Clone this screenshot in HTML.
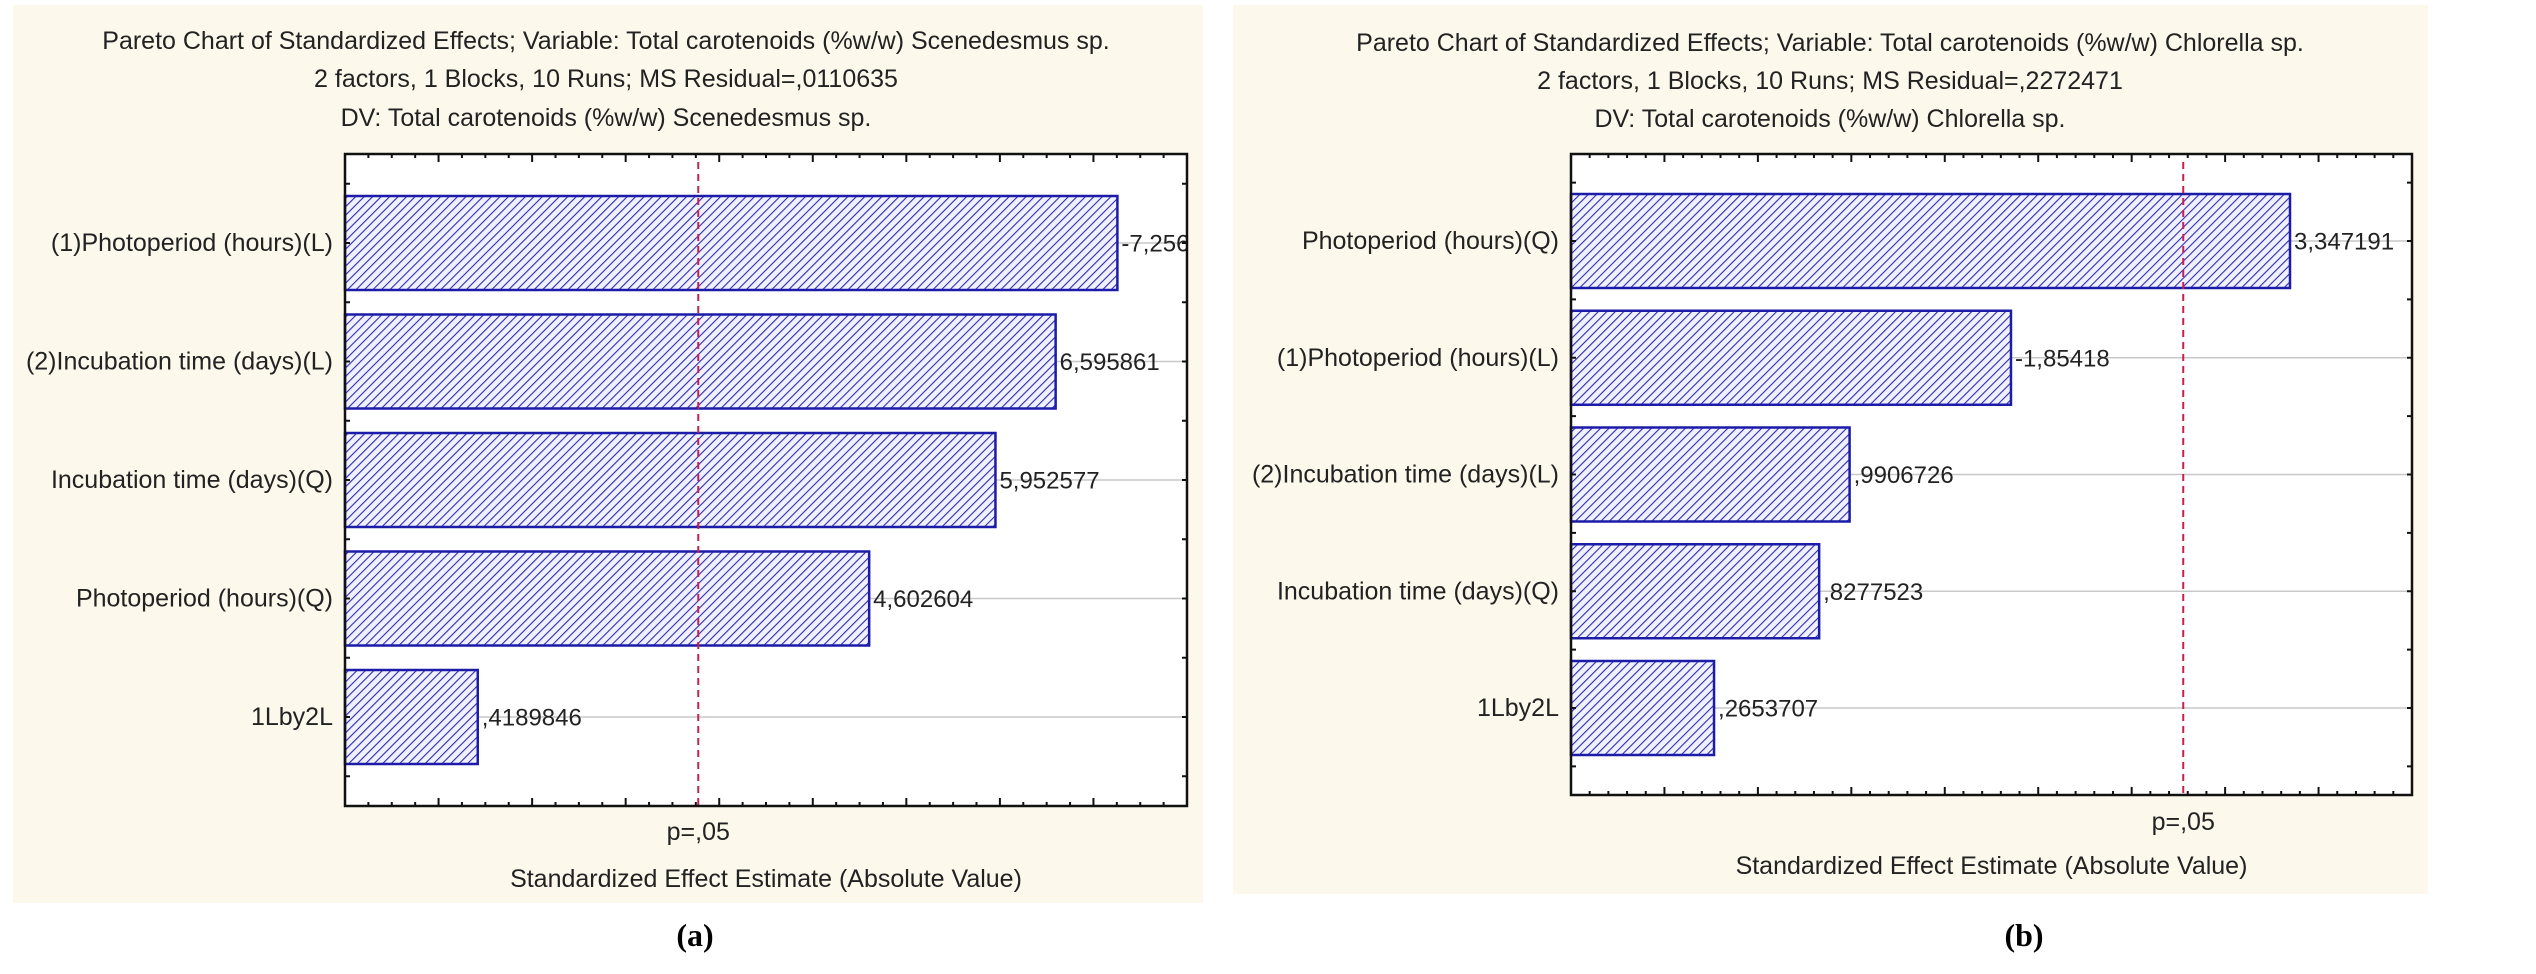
<!DOCTYPE html>
<html><head><meta charset="utf-8"><style>
html,body{margin:0;padding:0;background:#fff;}
svg{display:block;font-family:"Liberation Sans",Arial,sans-serif;}
</style></head><body>
<svg id="fig" width="2536" height="974" viewBox="0 0 2536 974" xmlns="http://www.w3.org/2000/svg">
<defs>
<pattern id="hatch" patternUnits="userSpaceOnUse" width="6" height="6" patternTransform="rotate(45)">
<rect width="6" height="6" fill="#f0f0ff"/>
<line x1="0" y1="0" x2="0" y2="6" stroke="#2c2cb4" stroke-width="2.2"/>
</pattern>
</defs>
</svg>
<script>
// Panel (a) data
const catsA = ["(1)Photoperiod (hours)(L)","(2)Incubation time (days)(L)","Incubation time (days)(Q)","Photoperiod (hours)(Q)","1Lby2L"];
const valsA = [7.256, 6.595861, 5.952577, 4.602604, 0.4189846];
const labelsA = ["-7,256","6,595861","5,952577","4,602604",",4189846"];
const pA = 2.776;
// Panel (b) data
const catsB = ["Photoperiod (hours)(Q)","(1)Photoperiod (hours)(L)","(2)Incubation time (days)(L)","Incubation time (days)(Q)","1Lby2L"];
const valsB = [3.347191, 1.85418, 0.9906726, 0.8277523, 0.2653707];
const labelsB = ["3,347191","-1,85418",",9906726",",8277523",",2653707"];
const pB = 2.776;

const NS = "http://www.w3.org/2000/svg";
const svg = document.getElementById('fig');
function mk(tag, attrs, parent){ const e=document.createElementNS(NS,tag); for(const k in attrs) e.setAttribute(k,attrs[k]); (parent||svg).appendChild(e); return e; }
function txt(x,y,s,size,anchor,parent,extra){ const t=mk('text',Object.assign({x:x,y:y,'font-size':size,'text-anchor':anchor||'middle','dominant-baseline':'central',fill:'#222'},extra||{}),parent); t.textContent=s; return t; }

function panel(o){
  const g = mk('g',{});
  
  
  const bg = mk('rect',{x:o.bg[0],y:o.bg[1],width:o.bg[2],height:o.bg[3],fill:'#fcf8ec'},g);
  
  
  o.titles.forEach((s,i)=>{ const t=txt(o.tcx,o.ty[i],s,25,'middle',g);
    
     });
  const L=o.frame[0],T=o.frame[1],R=o.frame[2],B=o.frame[3];
  const plot = mk('rect',{x:L,y:T,width:R-L,height:B-T,fill:'#fff'},g);
  
  
  const xs = v => L + (v - o.xmin)/(o.xmax - o.xmin)*(R-L);
  const n = o.cats.length;
  const ys = i => T + o.pad + i*((B-T-2*o.pad)/(n-1));
  const clipId = 'clip'+o.name;
  const cp = mk('clipPath',{id:clipId},g); mk('rect',{x:L,y:T,width:R-L,height:B-T},cp);
  for(let i=0;i<n;i++){ const gl=mk('line',{x1:L,x2:R,y1:ys(i),y2:ys(i),stroke:'#c8c8c8','stroke-width':1.5},g);
      }
  for(let i=0;i<n;i++){
    const y=ys(i), h=o.barH;
    const b=mk('rect',{x:xs(o.xmin),y:y-h/2,width:xs(o.vals[i])-xs(o.xmin),height:h,fill:'url(#hatch)',stroke:'#1c1ca8','stroke-width':2.5},g);
    
    
    const lab=txt(xs(o.vals[i])+4,y+1,o.labels[i],24,'start',g,{'clip-path':'url(#'+clipId+')'});
    
    
    const cl=txt(L-12,y,o.cats[i],25,'end',g);
    
    
  }
  const px=xs(o.p);
  const pl=mk('line',{x1:px,x2:px,y1:T+8,y2:B,stroke:'#c8204c','stroke-width':2,'stroke-dasharray':'7,5'},g);
  
  
  const pt=txt(px,o.pty,'p=,05',25,'middle',g);
  
  
  const steps=Math.round((o.xmax-o.xmin)/o.minor);
  for(let k=0;k<=steps;k++){
    const v=o.xmin+k*o.minor, x=xs(v);
    const major=Math.abs(((v-o.xmin)/o.major)-Math.round((v-o.xmin)/o.major))<1e-6;
    const len=major?8:4;
    mk('line',{x1:x,x2:x,y1:B,y2:B-len,stroke:'#111','stroke-width':2},g);
    mk('line',{x1:x,x2:x,y1:T,y2:T+len,stroke:'#111','stroke-width':2},g);
  }
  const pitch=(B-T-2*o.pad)/(n-1);
  for(let i=-1;i<=n;i++){
    [ys(i), ys(i)+pitch/2].forEach(y=>{ if(y>T+3&&y<B-3){
      mk('line',{x1:L,x2:L+5,y1:y,y2:y,stroke:'#111','stroke-width':2},g);
      mk('line',{x1:R,x2:R-5,y1:y,y2:y,stroke:'#111','stroke-width':2},g);}});
  }
  const fr=mk('rect',{x:L,y:T,width:R-L,height:B-T,fill:'none',stroke:'#111','stroke-width':2.5},g);
  
  
  const at=txt((L+R)/2,o.aty,'Standardized Effect Estimate (Absolute Value)',25,'middle',g);
  
  
  const cap=txt(o.capx,935,o.cap,32,'middle',g,{'font-family':'"Liberation Serif",serif','font-weight':'bold',fill:'#000'});
  
  
}

panel({name:'panel-a',bg:[13,5,1190,898],tcx:606,ty:[41,79,118],
  titles:["Pareto Chart of Standardized Effects; Variable: Total carotenoids (%w/w) Scenedesmus sp.","2 factors, 1 Blocks, 10 Runs; MS Residual=,0110635","DV: Total carotenoids (%w/w) Scenedesmus sp."],
  frame:[345,154,1187,806],pad:89,barH:94,xmin:-1,xmax:8,major:1,minor:0.25,
  cats:catsA,vals:valsA,labels:labelsA,p:pA,pty:832,aty:879,capx:695,cap:'(a)'});
panel({name:'panel-b',bg:[1233,5,1195,889],tcx:1830,ty:[43,81,119],
  titles:["Pareto Chart of Standardized Effects; Variable: Total carotenoids (%w/w) Chlorella sp.","2 factors, 1 Blocks, 10 Runs; MS Residual=,2272471","DV: Total carotenoids (%w/w) Chlorella sp."],
  frame:[1571,154,2412,795],pad:87,barH:94,xmin:-0.5,xmax:4,major:0.5,minor:0.1,
  cats:catsB,vals:valsB,labels:labelsB,p:pB,pty:822,aty:866,capx:2024,cap:'(b)'});
</script>
</body></html>
